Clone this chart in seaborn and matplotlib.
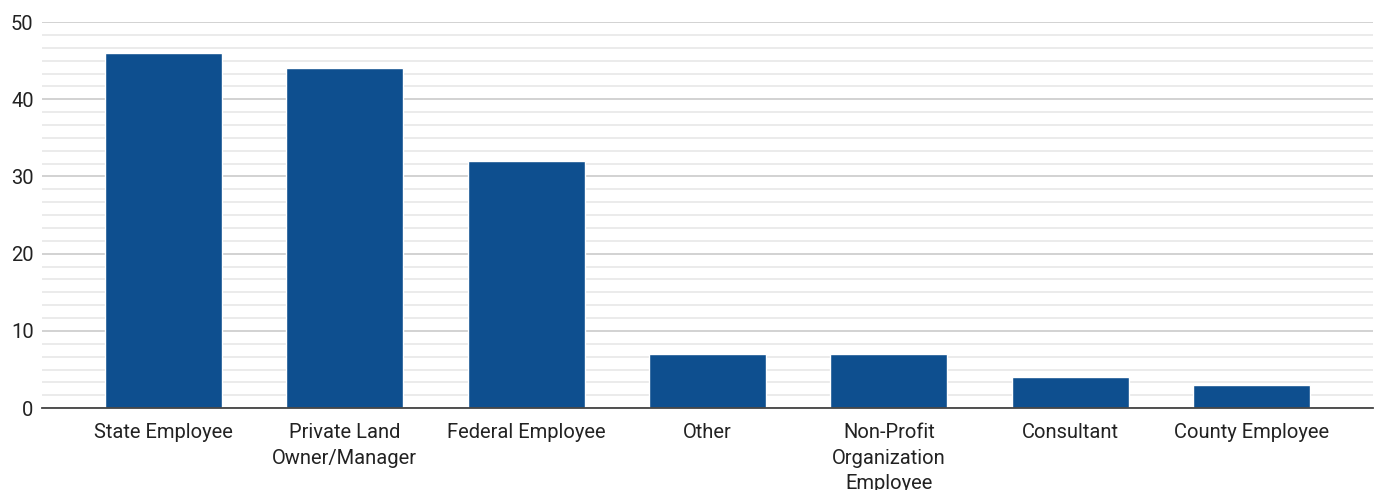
import matplotlib
matplotlib.use("Agg")
import matplotlib.pyplot as plt
from matplotlib.ticker import MultipleLocator, AutoMinorLocator
import seaborn as sns
import pandas as pd

categories = ["State Employee", "Private Land\nOwner/Manager", "Federal Employee", "Other",
              "Non-Profit\nOrganization\nEmployee", "Consultant", "County Employee"]
counts = [46, 44, 32, 7, 7, 4, 3]

sns.set_theme(style="white")
plt.rcParams['font.family'] = ['Roboto', 'DejaVu Sans']

df = pd.DataFrame({"category": categories, "count": counts})

fig = plt.figure(figsize=(13.81, 4.90), dpi=100)
ax = fig.add_axes([0.0304, 0.167, 0.9638, 0.788])

sns.barplot(data=df, x="category", y="count", color="#0e4f8f", saturation=1,
            width=0.646, ax=ax, zorder=3)

ax.set_ylim(0, 50)
ax.set_xlim(-0.67, 6.67)
ax.yaxis.set_major_locator(MultipleLocator(10))
ax.yaxis.set_minor_locator(AutoMinorLocator(6))
ax.grid(axis="y", which="major", color="#cfcfcf", linewidth=1.3, zorder=0)
ax.grid(axis="y", which="minor", color="#e6e6e6", linewidth=1.1, zorder=0)
ax.set_axisbelow(True)

for s in ["top", "right", "left"]:
    ax.spines[s].set_visible(False)
ax.spines["bottom"].set_color("#444444")
ax.spines["bottom"].set_linewidth(1.3)
ax.spines["bottom"].set_zorder(4)

ax.set_xlabel("")
ax.set_ylabel("")
ax.tick_params(axis="both", which="both", length=0, labelsize=14.5, colors="#222222")
ax.tick_params(axis="y", pad=6)
ax.tick_params(axis="x", pad=11)
for lbl in ax.get_xticklabels():
    lbl.set_linespacing(1.42)

fig.savefig("out.png", dpi=100, facecolor="white")
